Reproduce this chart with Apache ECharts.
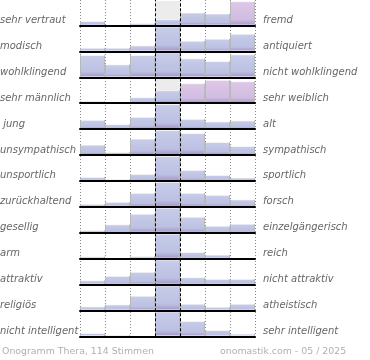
<!DOCTYPE html>
<html>
<head>
<meta charset="utf-8">
<script src="https://cdn.jsdelivr.net/npm/echarts@6/dist/echarts.min.js"></script>
<style>html,body{margin:0;padding:0;background:#fff}#c{width:370px;height:360px}</style>
</head>
<body>
<div id="c"></div>
<script>
// ---- data ----
const categories = ['1', '2', '3', '4', '5', '6', '7'];
const leftLabels = ['sehr vertraut', 'modisch', 'wohlklingend', 'sehr männlich', ' jung', 'unsympathisch', 'unsportlich', 'zurückhaltend', 'gesellig', 'arm', 'attraktiv', 'religiös', 'nicht intelligent'];
const rightLabels = ['fremd', 'antiquiert', 'nicht wohlklingend', 'sehr weiblich', 'alt', 'sympathisch', 'sportlich', 'forsch', 'einzelgängerisch', 'reich', 'nicht attraktiv', 'atheistisch', 'sehr intelligent'];
const row0 = [4.5, 0, 2.5, 6.3, 13, 12, 24.3];
const row1 = [3.7, 3.7, 6, 30, 10.7, 12.7, 17.7];
const row2 = [22.3, 13, 22.3, 30, 19, 16.3, 23];
const row3 = [2.4, 1, 6, 13, 20, 23.4, 22];
const row4 = [9.3, 5, 12.3, 30, 10.3, 7.7, 8.7];
const row5 = [10.4, 3, 16.4, 30, 22, 13, 9];
const row6 = [4, 2, 7, 30, 11, 6, 3.4];
const row7 = [3, 5, 14, 30, 14, 12, 7.4];
const row8 = [2.7, 8.4, 19, 30, 16, 7, 9];
const row9 = [2.3, 0.7, 2.6, 30, 6.6, 4, 0];
const row10 = [4.3, 8.7, 12.7, 30, 7.3, 5.7, 5.7];
const row11 = [4, 6, 14.7, 30, 6.7, 3.7, 6.7];
const row12 = [3.3, 1.7, 0, 30, 15.3, 6.3, 2.7];
const rows = [row0, row1, row2, row3, row4, row5, row6, row7, row8, row9, row10, row11, row12];
const pinkBars = [[0, 6], [3, 4], [3, 5], [3, 6]];
const footerLeft = 'Onogramm Thera, 114 Stimmen';
const footerRight = 'onomastik.com - 05 / 2025';

// ---- layout ----
const LEFT = 80, WIDTH = 175, PITCH = 25.9, BASE0 = 25.5, ROWH = 24.5, YMAX = 24.5;
const chart = echarts.init(document.getElementById('c'), null, {renderer: 'canvas'});

function grad(top, mid, bot) {
  return new echarts.graphic.LinearGradient(0, 0, 0, 1, [
    {offset: 0, color: top}, {offset: 0.75, color: mid}, {offset: 1, color: bot}
  ]);
}
const sideBorder = new echarts.graphic.LinearGradient(0, 0, 1, 0, [
  {offset: 0, color: '#8f8f8f'}, {offset: 0.06, color: 'rgba(255,255,255,0.6)'},
  {offset: 0.94, color: 'rgba(255,255,255,0.6)'}, {offset: 1, color: '#8f8f8f'}
]);
const blue = grad('#c8cde9', '#bcc0e2', '#a293c6');
const pink = grad('#dfc7e6', '#d0bde2', '#a797c8');

const grid = [], xAxis = [], yAxis = [], series = [], graphic = [];
rows.forEach((vals, i) => {
  const base = BASE0 + PITCH * i;
  grid.push({left: LEFT, width: WIDTH, top: base - ROWH, height: ROWH});
  xAxis.push({type: 'category', gridIndex: i, data: categories, boundaryGap: true,
    axisLine: {show: true, lineStyle: {color: '#000', width: 2}}, axisTick: {show: false},
    axisLabel: {show: false}, splitLine: {show: false}, z: 5});
  yAxis.push({type: 'value', gridIndex: i, min: 0, max: YMAX, show: false, splitLine: {show: false}});
  series.push({type: 'bar', xAxisIndex: i, yAxisIndex: i, barWidth: '100%', barGap: '-100%',
    silent: true, itemStyle: {color: '#ececec'}, z: 1,
    data: categories.map((c, j) => j === 3 ? YMAX : null)});
  series.push({type: 'bar', xAxisIndex: i, yAxisIndex: i, barWidth: '100%', barGap: '-100%',
    silent: true, clip: true, z: 2,
    data: vals.map((v, j) => {
      const isPink = pinkBars.some(p => p[0] === i && p[1] === j);
      return {value: v, itemStyle: {color: isPink ? pink : blue, borderColor: sideBorder, borderWidth: 1}};
    })});
  graphic.push({type: 'text', left: 0, top: base - 10, silent: true,
    style: {text: leftLabels[i], font: 'italic 10px "DejaVu Sans"', fill: '#666'}});
  graphic.push({type: 'text', left: 263, top: base - 10, silent: true,
    style: {text: rightLabels[i], font: 'italic 10px "DejaVu Sans"', fill: '#666'}});
});

// overlay grid for vertical guide lines
const ov = rows.length;
grid.push({left: LEFT, width: WIDTH, top: 0, height: BASE0 + PITCH * (rows.length - 1)});
xAxis.push({type: 'value', gridIndex: ov, min: 0, max: 7, interval: 1, axisLine: {show: false},
  axisTick: {show: false}, axisLabel: {show: false},
  splitLine: {show: true, lineStyle: {color: '#888', type: [1, 2], width: 1}}});
yAxis.push({type: 'value', gridIndex: ov, min: 0, max: 1, show: false, splitLine: {show: false}});
series.push({type: 'line', xAxisIndex: ov, yAxisIndex: ov, data: [[0, -1]], showSymbol: false,
  lineStyle: {opacity: 0}, silent: true, z: 10,
  markLine: {silent: true, symbol: 'none', label: {show: false}, animation: false,
    lineStyle: {color: '#000', type: [3, 2], width: 1},
    data: [{xAxis: 3}, {xAxis: 4}]}});

graphic.push({type: 'text', left: 2, top: 347, silent: true,
  style: {text: footerLeft, font: '9.4px "DejaVu Sans"', fill: '#b0b0b0'}});
graphic.push({type: 'text', left: 220, top: 347, silent: true,
  style: {text: footerRight, font: '9.4px "DejaVu Sans"', fill: '#b0b0b0'}});

chart.setOption({animation: false, grid, xAxis, yAxis, series, graphic});
</script>
</body>
</html>
